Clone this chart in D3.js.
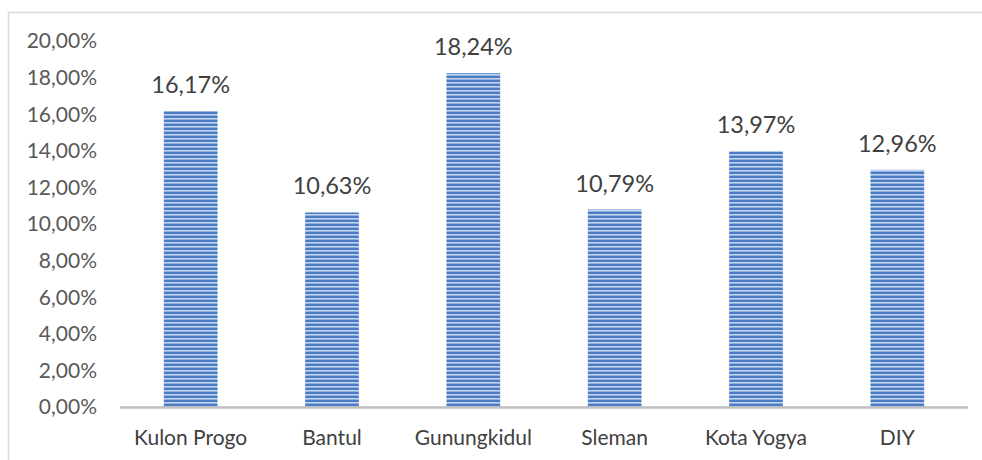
<!DOCTYPE html>
<html><head><meta charset="utf-8">
<script src="https://cdn.jsdelivr.net/npm/d3@7"></script>
<style>body{margin:0;background:#fff}svg{display:block}text{font-family:Lato,"Open Sans",sans-serif;fill:#404040}</style>
</head><body><svg id="c" width="982" height="460"></svg>
<script>
const categories = ["Kulon Progo","Bantul","Gunungkidul","Sleman","Kota Yogya","DIY"];
const values = [16.17, 10.63, 18.24, 10.79, 13.97, 12.96];
const yTicks = [0,2,4,6,8,10,12,14,16,18,20];

const svg = d3.select("#c");
const defs = svg.append("defs");
const pat = defs.append("pattern").attr("id","stripes").attr("patternUnits","userSpaceOnUse")
  .attr("width",8).attr("height",4);
pat.append("rect").attr("width",8).attr("height",4).attr("fill","#4a7cc5");
pat.append("rect").attr("y",2).attr("width",8).attr("height",1.6).attr("fill","#c4d4ee");

svg.append("rect").attr("x",8.5).attr("y",12.5).attr("width",1000).attr("height",500)
  .attr("fill","none").attr("stroke","#d9d9d9").attr("stroke-width",1.5);

const x = d3.scaleBand().domain(categories).range([120,968]).paddingInner(0.62).paddingOuter(0.31);
const y = d3.scaleLinear().domain([0,20]).range([407,41]);
const fmt = v => d3.format(".2f")(v).replace(".",",") + "%";

svg.append("g").selectAll("text").data(yTicks).join("text")
  .attr("x",97).attr("y",d=>y(d)).attr("dy","0.35em").attr("text-anchor","end")
  .style("font-size","21px").style("fill","#595959").text(fmt);

svg.append("g").selectAll("rect").data(values).join("rect")
  .attr("x",(d,i)=>x(categories[i])).attr("width",x.bandwidth())
  .attr("y",d=>y(d)).attr("height",d=>y(0)-y(d)).attr("fill","url(#stripes)");

svg.append("line").attr("x1",120).attr("x2",968).attr("y1",y(0)+0.5).attr("y2",y(0)+0.5)
  .attr("stroke","#bfbfbf").attr("stroke-width",2.5);

svg.append("g").selectAll("text").data(values).join("text")
  .attr("x",(d,i)=>x(categories[i])+x.bandwidth()/2).attr("y",d=>y(d)-18)
  .attr("text-anchor","middle").style("font-size","23.5px").text(fmt);

svg.append("g").selectAll("text").data(categories).join("text")
  .attr("x",d=>x(d)+x.bandwidth()/2).attr("y",438).attr("dy","0.35em")
  .attr("text-anchor","middle").style("font-size","21px").style("fill","#404040").text(d=>d);
</script></body></html>
